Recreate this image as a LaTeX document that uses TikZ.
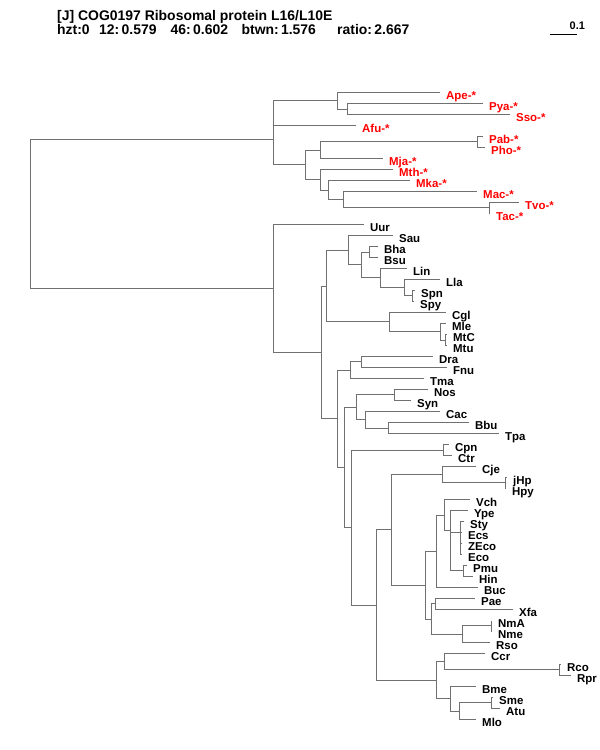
\documentclass[tikz,border=0pt]{standalone}
\usepackage{fontspec}
\setmainfont{Liberation Sans}
\usepackage{xcolor}
\usepackage{tikz}
\definecolor{brgray}{RGB}{112,112,112}

\begin{document}
\begin{tikzpicture}[x=1bp,y=-1bp,
  br/.style={draw=brgray,line width=1.6bp},
  lab/.style={anchor=base west,inner sep=0pt,font=\bfseries\fontsize{11.5}{13}\selectfont},
  blk/.style={lab,xshift=6.5bp,yshift=-6.5bp},
  arc/.style={lab,text=red,xshift=6.5bp,yshift=-7.2bp},
  hd/.style={anchor=base west,inner sep=0pt,font=\bfseries\fontsize{14}{16}\selectfont}]
  \useasboundingbox (0,0) rectangle (600,750);

  % header and scale
  \node[hd] (title) at (57,20.5) {[J] COG0197 Ribosomal protein L16/L10E};
  \node[hd] (hzt) at (57,35) {hzt:0};
  \node[hd] (s12) at (99,35) {12:\,0.579};
  \node[hd] (s46) at (170.5,35) {46:\,0.602};
  \node[hd] (btwn) at (241.4,35) {btwn:\,1.576};
  \node[hd] (ratio) at (337,35) {ratio:\,2.667};
  \coordinate (sb0) at (549.5,34.5);
  \coordinate (sb1) at (576.5,34.5);
  \draw[black,line width=1bp] (sb0) -- (sb1);
  \node[lab,font=\bfseries\fontsize{11}{13}\selectfont] (sbl) at (569.5,29.5) {0.1};

  % inner nodes, archaea
  \coordinate (root) at (30.5,213.5);
  \coordinate (arch) at (273.5,139.5);
  \coordinate (a0) at (273.5,113.5);
  \coordinate (a1) at (337.5,100.5);
  \coordinate (a1b) at (347.5,109.5);
  \coordinate (a2) at (305.5,164.5);
  \coordinate (a3) at (320.5,150.5);
  \coordinate (a3b) at (477.5,141.5);
  \coordinate (a4) at (320.5,179.5);
  \coordinate (a5) at (328.5,190.5);
  \coordinate (a6) at (343.5,199.5);
  \coordinate (a7) at (489.5,207.5);

  % inner nodes, bacteria
  \coordinate (bact) at (273.5,288.5);
  \coordinate (b1) at (321.5,352.5);
  \coordinate (b2) at (326.5,286.5);
  \coordinate (b4) at (348.5,250.5);
  \coordinate (b6) at (361.5,264.5);
  \coordinate (b7) at (369.5,252.5);
  \coordinate (b8) at (380.5,277.5);
  \coordinate (b9) at (404.5,287.5);
  \coordinate (b10) at (412.5,295.5);
  \coordinate (b5) at (389.5,321.5);
  \coordinate (b11) at (440.5,331.5);
  \coordinate (b12) at (445.5,340.5);
  \coordinate (b3) at (337.5,418.5);
  \coordinate (b13) at (350.5,370.5);
  \coordinate (b15) at (361.5,361.5);
  \coordinate (b14) at (344.5,467.5);
  \coordinate (b16) at (356.5,407.5);
  \coordinate (b18) at (394.5,394.5);
  \coordinate (b19) at (365.5,419.5);
  \coordinate (b20) at (388.5,428.5);
  \coordinate (b17) at (351.5,527.5);
  \coordinate (b21) at (443.5,450.5);
  \coordinate (b22) at (376.5,605.5);
  \coordinate (b23) at (391.5,529.5);
  \coordinate (b25) at (442.5,474.5);
  \coordinate (b27) at (505.5,482.5);
  \coordinate (b26) at (425.5,585.5);
  \coordinate (b28) at (436.5,551.5);
  \coordinate (b29) at (444.5,515.5);
  \coordinate (b30) at (450.5,530.5);
  \coordinate (b31) at (450.5,551.5);
  \coordinate (bS) at (460.5,532.5);
  \coordinate (bE) at (460.5,543.5);
  \coordinate (bP) at (463.5,570.5);
  \coordinate (b32) at (431.5,619.5);
  \coordinate (b33) at (435.5,603.5);
  \coordinate (b34) at (462.5,634.5);
  \coordinate (b35) at (491.5,625.5);
  \coordinate (b24) at (436.5,680.5);
  \coordinate (b36) at (444.5,661.5);
  \coordinate (b37) at (559.5,669.5);
  \coordinate (b38) at (450.5,698.5);
  \coordinate (b39) at (459.5,711.5);
  \coordinate (b40) at (491.5,702.5);

  % leaf ends
  \coordinate (Ape) at (439.5,92.5);
  \coordinate (Pya) at (482.5,103.5);
  \coordinate (Sso) at (509.5,114.5);
  \coordinate (Afu) at (355.5,125.5);
  \coordinate (Pab) at (482.5,136.5);
  \coordinate (Pho) at (484.5,147.5);
  \coordinate (Mja) at (382.5,158.5);
  \coordinate (Mth) at (392.5,169.5);
  \coordinate (Mka) at (409.5,180.5);
  \coordinate (Mac) at (476.5,191.5);
  \coordinate (Tvo) at (518.5,202.5);
  \coordinate (Tac) at (489.5,213.5);
  \coordinate (Uur) at (363.5,224.5);
  \coordinate (Sau) at (392.5,235.5);
  \coordinate (Bha) at (377.5,246.5);
  \coordinate (Bsu) at (377.5,257.5);
  \coordinate (Lin) at (406.5,268.5);
  \coordinate (Lla) at (439.5,279.5);
  \coordinate (Spn) at (414.5,290.5);
  \coordinate (Spy) at (413.5,301.5);
  \coordinate (Cgl) at (445.5,312.5);
  \coordinate (Mle) at (445.5,323.5);
  \coordinate (MtC) at (446.5,334.5);
  \coordinate (Mtu) at (446.5,345.5);
  \coordinate (Dra) at (432.5,356.5);
  \coordinate (Fnu) at (446.5,367.5);
  \coordinate (Tma) at (423.5,378.5);
  \coordinate (Nos) at (427.5,389.5);
  \coordinate (Syn) at (410.5,400.5);
  \coordinate (Cac) at (439.5,411.5);
  \coordinate (Bbu) at (468.5,422.5);
  \coordinate (Tpa) at (498.5,433.5);
  \coordinate (Cpn) at (448.5,444.5);
  \coordinate (Ctr) at (451.5,455.5);
  \coordinate (Cje) at (475.5,466.5);
  \coordinate (jHp) at (506.5,477.5);
  \coordinate (Hpy) at (505.5,488.5);
  \coordinate (Vch) at (469.5,499.5);
  \coordinate (Ype) at (467.5,510.5);
  \coordinate (Sty) at (463.5,521.5);
  \coordinate (Ecs) at (461.5,532.5);
  \coordinate (ZEco) at (461.5,543.5);
  \coordinate (Eco) at (461.5,554.5);
  \coordinate (Pmu) at (466.5,565.5);
  \coordinate (Hin) at (472.5,576.5);
  \coordinate (Buc) at (477.5,587.5);
  \coordinate (Pae) at (474.5,598.5);
  \coordinate (Xfa) at (512.5,609.5);
  \coordinate (NmA) at (491.5,620.5);
  \coordinate (Nme) at (491.5,631.5);
  \coordinate (Rso) at (489.5,642.5);
  \coordinate (Ccr) at (484.5,653.5);
  \coordinate (Rco) at (560.5,664.5);
  \coordinate (Rpr) at (570.5,675.5);
  \coordinate (Bme) at (475.5,686.5);
  \coordinate (Sme) at (492.5,697.5);
  \coordinate (Atu) at (499.5,708.5);
  \coordinate (Mlo) at (475.5,719.5);

  % branches
  \draw[br] (root) |- (arch) (root) |- (bact);
  \draw[br] (arch) |- (a0) (arch) |- (a2);
  \draw[br] (a0) |- (a1) (a0) |- (Afu);
  \draw[br] (a1) |- (Ape) (a1) |- (a1b);
  \draw[br] (a1b) |- (Pya) (a1b) |- (Sso);
  \draw[br] (a2) |- (a3) (a2) |- (a4);
  \draw[br] (a3) |- (a3b) (a3) |- (Mja);
  \draw[br] (a3b) |- (Pab) (a3b) |- (Pho);
  \draw[br] (a4) |- (Mth) (a4) |- (a5);
  \draw[br] (a5) |- (Mka) (a5) |- (a6);
  \draw[br] (a6) |- (Mac) (a6) |- (a7);
  \draw[br] (a7) |- (Tvo) (a7) |- (Tac);
  \draw[br] (bact) |- (Uur) (bact) |- (b1);
  \draw[br] (b1) |- (b2) (b1) |- (b3);
  \draw[br] (b2) |- (b4) (b2) |- (b5);
  \draw[br] (b4) |- (Sau) (b4) |- (b6);
  \draw[br] (b6) |- (b7) (b6) |- (b8);
  \draw[br] (b7) |- (Bha) (b7) |- (Bsu);
  \draw[br] (b8) |- (Lin) (b8) |- (b9);
  \draw[br] (b9) |- (Lla) (b9) |- (b10);
  \draw[br] (b10) |- (Spn) (b10) |- (Spy);
  \draw[br] (b5) |- (Cgl) (b5) |- (b11);
  \draw[br] (b11) |- (Mle) (b11) |- (b12);
  \draw[br] (b12) |- (MtC) (b12) |- (Mtu);
  \draw[br] (b3) |- (b13) (b3) |- (b14);
  \draw[br] (b13) |- (b15) (b13) |- (Tma);
  \draw[br] (b15) |- (Dra) (b15) |- (Fnu);
  \draw[br] (b14) |- (b16) (b14) |- (b17);
  \draw[br] (b16) |- (b18) (b16) |- (b19);
  \draw[br] (b18) |- (Nos) (b18) |- (Syn);
  \draw[br] (b19) |- (Cac) (b19) |- (b20);
  \draw[br] (b20) |- (Bbu) (b20) |- (Tpa);
  \draw[br] (b17) |- (b21) (b17) |- (b22);
  \draw[br] (b21) |- (Cpn) (b21) |- (Ctr);
  \draw[br] (b22) |- (b23) (b22) |- (b24);
  \draw[br] (b23) |- (b25) (b23) |- (b26);
  \draw[br] (b25) |- (Cje) (b25) |- (b27);
  \draw[br] (b27) |- (jHp) (b27) |- (Hpy);
  \draw[br] (b26) |- (b28) (b26) |- (b32);
  \draw[br] (b28) |- (b29) (b28) |- (Buc);
  \draw[br] (b29) |- (Vch) (b29) |- (b30);
  \draw[br] (b30) |- (Ype) (b30) |- (b31);
  \draw[br] (b31) |- (bS) (b31) |- (bP);
  \draw[br] (bS) |- (Sty) (bS) |- (bE);
  \draw[br] (bE) |- (Ecs) (bE) |- (ZEco) (bE) |- (Eco);
  \draw[br] (bP) |- (Pmu) (bP) |- (Hin);
  \draw[br] (b32) |- (b33) (b32) |- (b34);
  \draw[br] (b33) |- (Pae) (b33) |- (Xfa);
  \draw[br] (b34) |- (b35) (b34) |- (Rso);
  \draw[br] (b35) |- (NmA) (b35) |- (Nme);
  \draw[br] (b24) |- (b36) (b24) |- (b38);
  \draw[br] (b36) |- (Ccr) (b36) |- (b37);
  \draw[br] (b37) |- (Rco) (b37) |- (Rpr);
  \draw[br] (b38) |- (Bme) (b38) |- (b39);
  \draw[br] (b39) |- (b40) (b39) |- (Mlo);
  \draw[br] (b40) |- (Sme) (b40) |- (Atu);

  % leaf names
  \node[arc] (tApe) at (Ape) {Ape-*};
  \node[arc] (tPya) at (Pya) {Pya-*};
  \node[arc] (tSso) at (Sso) {Sso-*};
  \node[arc] (tAfu) at (Afu) {Afu-*};
  \node[arc] (tPab) at (Pab) {Pab-*};
  \node[arc] (tPho) at (Pho) {Pho-*};
  \node[arc] (tMja) at (Mja) {Mja-*};
  \node[arc] (tMth) at (Mth) {Mth-*};
  \node[arc] (tMka) at (Mka) {Mka-*};
  \node[arc] (tMac) at (Mac) {Mac-*};
  \node[arc] (tTvo) at (Tvo) {Tvo-*};
  \node[arc] (tTac) at (Tac) {Tac-*};
  \node[blk] (tUur) at (Uur) {Uur};
  \node[blk] (tSau) at (Sau) {Sau};
  \node[blk] (tBha) at (Bha) {Bha};
  \node[blk] (tBsu) at (Bsu) {Bsu};
  \node[blk] (tLin) at (Lin) {Lin};
  \node[blk] (tLla) at (Lla) {Lla};
  \node[blk] (tSpn) at (Spn) {Spn};
  \node[blk] (tSpy) at (Spy) {Spy};
  \node[blk] (tCgl) at (Cgl) {Cgl};
  \node[blk] (tMle) at (Mle) {Mle};
  \node[blk] (tMtC) at (MtC) {MtC};
  \node[blk] (tMtu) at (Mtu) {Mtu};
  \node[blk] (tDra) at (Dra) {Dra};
  \node[blk] (tFnu) at (Fnu) {Fnu};
  \node[blk] (tTma) at (Tma) {Tma};
  \node[blk] (tNos) at (Nos) {Nos};
  \node[blk] (tSyn) at (Syn) {Syn};
  \node[blk] (tCac) at (Cac) {Cac};
  \node[blk] (tBbu) at (Bbu) {Bbu};
  \node[blk] (tTpa) at (Tpa) {Tpa};
  \node[blk] (tCpn) at (Cpn) {Cpn};
  \node[blk] (tCtr) at (Ctr) {Ctr};
  \node[blk] (tCje) at (Cje) {Cje};
  \node[blk] (tjHp) at (jHp) {jHp};
  \node[blk] (tHpy) at (Hpy) {Hpy};
  \node[blk] (tVch) at (Vch) {Vch};
  \node[blk] (tYpe) at (Ype) {Ype};
  \node[blk] (tSty) at (Sty) {Sty};
  \node[blk] (tEcs) at (Ecs) {Ecs};
  \node[blk] (tZEco) at (ZEco) {ZEco};
  \node[blk] (tEco) at (Eco) {Eco};
  \node[blk] (tPmu) at (Pmu) {Pmu};
  \node[blk] (tHin) at (Hin) {Hin};
  \node[blk] (tBuc) at (Buc) {Buc};
  \node[blk] (tPae) at (Pae) {Pae};
  \node[blk] (tXfa) at (Xfa) {Xfa};
  \node[blk] (tNmA) at (NmA) {NmA};
  \node[blk] (tNme) at (Nme) {Nme};
  \node[blk] (tRso) at (Rso) {Rso};
  \node[blk] (tCcr) at (Ccr) {Ccr};
  \node[blk] (tRco) at (Rco) {Rco};
  \node[blk] (tRpr) at (Rpr) {Rpr};
  \node[blk] (tBme) at (Bme) {Bme};
  \node[blk] (tSme) at (Sme) {Sme};
  \node[blk] (tAtu) at (Atu) {Atu};
  \node[blk] (tMlo) at (Mlo) {Mlo};
\end{tikzpicture}
\end{document}
